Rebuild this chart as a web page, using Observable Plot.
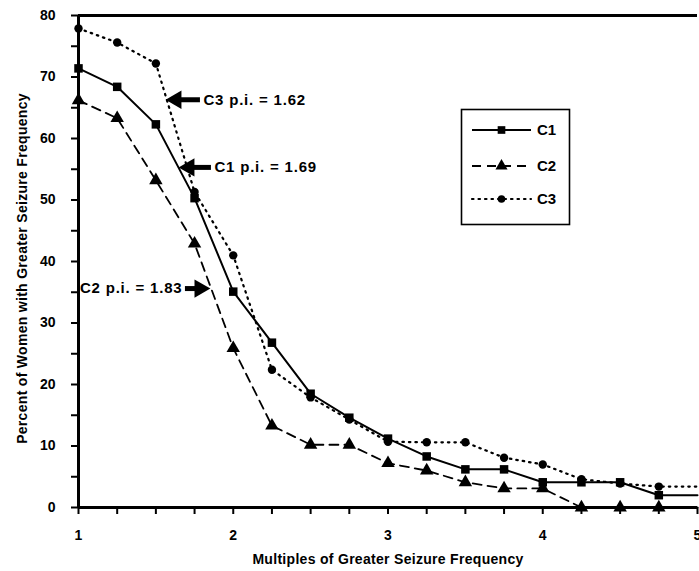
<!DOCTYPE html>
<html>
<head>
<meta charset="utf-8">
<script src="https://cdn.jsdelivr.net/npm/d3@7"></script>
<script src="https://cdn.jsdelivr.net/npm/@observablehq/plot@0.6"></script>
<style>
  body { margin: 0; background: #fff; }
  #chart { position: relative; width: 699px; height: 571px; overflow: hidden; }
  #chart svg { display: block; }
  #legend { position: absolute; left: 0; top: 0; pointer-events: none; }
</style>
</head>
<body>
<div id="chart"></div>
<script>
// Multiples of greater seizure frequency (x) and percent of women above each multiple (y)
const multiples = [1, 1.25, 1.5, 1.75, 2, 2.25, 2.5, 2.75, 3, 3.25, 3.5, 3.75, 4, 4.25, 4.5, 4.75, 5];
const c1 = [71.4, 68.4, 62.3, 50.3, 35.1, 26.8, 18.5, 14.6, 11.2, 8.3, 6.2, 6.2, 4.1, 4.1, 4.1, 2.0, 2.0];
const c2 = [66.2, 63.3, 53.2, 42.9, 25.9, 13.3, 10.2, 10.2, 7.2, 6.0, 4.1, 3.1, 3.1, 0, 0, 0, 0];
const c3 = [77.9, 75.6, 72.2, 51.3, 41.0, 22.4, 17.9, 14.3, 10.7, 10.6, 10.6, 8.1, 7.0, 4.6, 3.9, 3.4, 3.4];
const seriesNames = ["C1", "C2", "C3"];

// Axis ticks and titles
const xTicks = [1, 1.25, 1.5, 1.75, 2, 2.25, 2.5, 2.75, 3, 3.25, 3.5, 3.75, 4, 4.25, 4.5, 4.75, 5];
const yTicks = [0, 5, 10, 15, 20, 25, 30, 35, 40, 45, 50, 55, 60, 65, 70, 75, 80];
const xTitle = "Multiples of Greater Seizure Frequency";
const yTitle = "Percent of Women with Greater Seizure Frequency";

// Peak-index call-outs: label, arrow tip and tail on the x scale, height on the y scale
const noteLabels = ["C3 p.i. = 1.62", "C1 p.i. = 1.69", "C2 p.i. = 1.83"];
const noteTips = [1.562, 1.646, 1.853];
const noteTails = [1.788, 1.859, 1.691];
const noteLevels = [66.3, 55.3, 35.6];

const values = [c1, c2, c3];
const rows = seriesNames.flatMap((s, i) => multiples.map((m, j) => ({series: s, x: m, y: values[i][j]})));
const of = (s) => rows.filter((d) => d.series === s);

const notes = noteLabels.map((label, i) => {
  const dir = noteTails[i] > noteTips[i] ? -1 : 1; // -1: arrow points left
  return {label, tip: noteTips[i], tail: noteTails[i], y: noteLevels[i], dir,
          shaftStart: noteTips[i] - dir * 0.07};
});
const leftNotes = notes.filter((d) => d.dir < 0);
const rightNotes = notes.filter((d) => d.dir > 0);

const font = "'Liberation Sans', Arial, Helvetica, sans-serif";
const lineStyles = {
  C1: {strokeWidth: 2},
  C2: {strokeWidth: 1.8, strokeDasharray: "9,6"},
  C3: {strokeWidth: 2.2, strokeDasharray: "1.5,5", strokeLinecap: "round"}
};
const symbols = {C1: ["square", 4.8], C2: ["triangle", 5], C3: ["circle", 4.2]};
const titleStyle = {fontSize: 14, fontWeight: "bold"};
const noteStyle = {fontSize: 15, fontWeight: "bold"};

const plot = Plot.plot({
  width: 699,
  height: 571,
  marginLeft: 78,
  marginRight: 2,
  marginTop: 15,
  marginBottom: 64,
  style: {fontFamily: font, fontSize: "14px", fontWeight: "bold", color: "#000", background: "#fff"},
  x: {domain: [1, 5]},
  y: {domain: [0, 80]},
  marks: [
    Plot.axisX({ticks: xTicks, tickSize: 7, tickPadding: 16, strokeWidth: 2,
                tickFormat: (d) => Number.isInteger(d) ? String(d) : "", label: null}),
    Plot.axisY({ticks: yTicks, tickSize: 7, tickPadding: 16, strokeWidth: 2,
                tickFormat: (d) => d % 10 === 0 ? String(d) : "", label: null}),
    Plot.ruleY([80], {stroke: "#000", strokeWidth: 3}),
    ...seriesNames.map((s) => Plot.line(of(s), {x: "x", y: "y", stroke: "#000", ...lineStyles[s]})),
    ...seriesNames.map((s) => Plot.dot(of(s).filter((d) => d.x < 5), {
      x: "x", y: "y", symbol: symbols[s][0], r: symbols[s][1], fill: "#000", stroke: "none"})),
    Plot.ruleY([0], {stroke: "#000", strokeWidth: 3}),
    Plot.ruleX([1], {stroke: "#000", strokeWidth: 3}),
    // call-out arrows: shaft, filled head, label
    Plot.ruleY(notes, {y: "y", x1: "shaftStart", x2: "tail", stroke: "#000", strokeWidth: 5}),
    Plot.dot(leftNotes, {x: "tip", y: "y", symbol: "triangle", r: 6.8, fill: "#000", stroke: "none",
                         rotate: -90, dx: 10.7}),
    Plot.dot(rightNotes, {x: "tip", y: "y", symbol: "triangle", r: 6.8, fill: "#000", stroke: "none",
                          rotate: 90, dx: -10.7}),
    Plot.text(leftNotes, {x: "tail", y: "y", text: "label", textAnchor: "start", dx: 3, ...noteStyle}),
    Plot.text(rightNotes, {x: "tail", y: "y", text: "label", textAnchor: "end", dx: -3, ...noteStyle}),
    // axis titles
    Plot.text([xTitle], {frameAnchor: "bottom", dy: 56, textAnchor: "middle", ...titleStyle}),
    Plot.text([yTitle], {frameAnchor: "left", dx: -56, dy: 7, rotate: -90, textAnchor: "middle", ...titleStyle})
  ]
});

// Wider tracking for the call-outs and axis titles
d3.select(plot).selectAll("text")
  .filter(function () { return noteLabels.includes(this.textContent); })
  .style("letter-spacing", "0.8px");
d3.select(plot).selectAll("text")
  .filter(function () { return this.textContent === xTitle || this.textContent === yTitle; })
  .style("letter-spacing", "0.3px");

const chart = document.getElementById("chart");
chart.appendChild(plot);

// Legend box
const legend = d3.select(chart).append("svg").attr("id", "legend")
  .attr("width", 699).attr("height", 571)
  .style("font-family", font).style("font-weight", "bold").style("font-size", "15px");
legend.append("rect").attr("x", 461.5).attr("y", 109.5).attr("width", 108).attr("height", 115)
  .attr("fill", "#fff").attr("stroke", "#000").attr("stroke-width", 1.6);
const legendRows = [130, 166, 199];
seriesNames.forEach((s, i) => {
  const g = legend.append("g").attr("transform", `translate(0,${legendRows[i]})`);
  const st = lineStyles[s];
  g.append("line").attr("x1", 472).attr("x2", 531).attr("y1", 0).attr("y2", 0)
    .attr("stroke", "#000").attr("stroke-width", st.strokeWidth)
    .attr("stroke-dasharray", st.strokeDasharray || null)
    .attr("stroke-linecap", st.strokeLinecap || null);
  const sym = {square: d3.symbolSquare, triangle: d3.symbolTriangle, circle: d3.symbolCircle}[symbols[s][0]];
  const r = symbols[s][1] * 0.9;
  g.append("path").attr("transform", "translate(501.5,0)")
    .attr("d", d3.symbol(sym, Math.PI * r * r)()).attr("fill", "#000");
  g.append("text").attr("x", 537).attr("y", 0).attr("dy", "0.35em").text(s);
});
</script>
</body>
</html>
